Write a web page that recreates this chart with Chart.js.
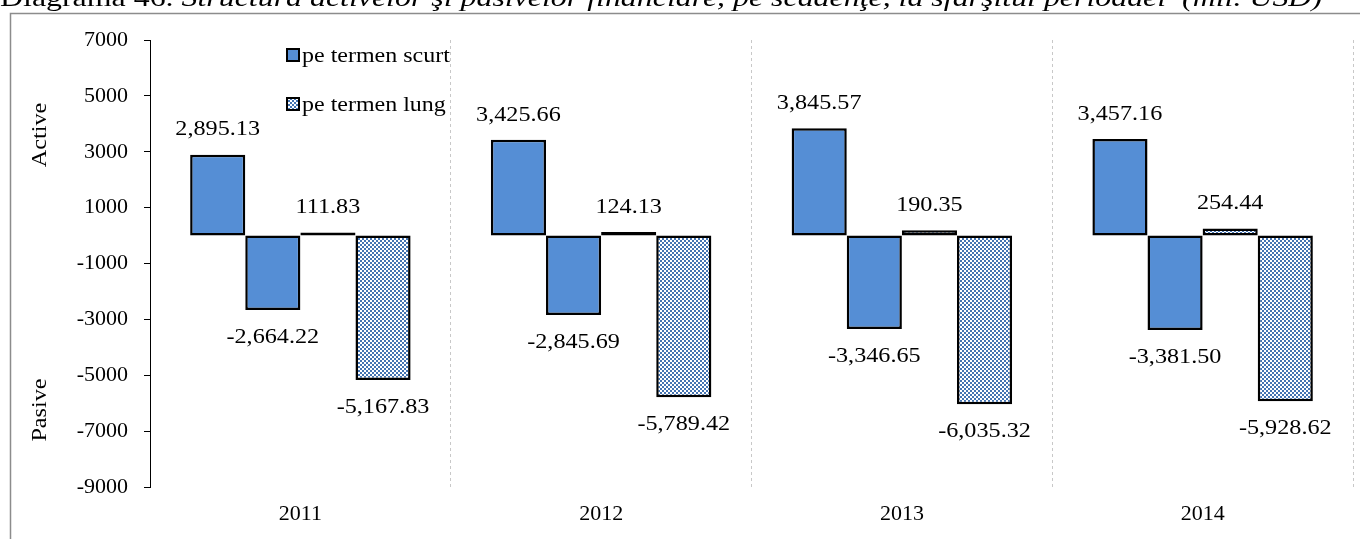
<!DOCTYPE html>
<html>
<head>
<meta charset="utf-8">
<script src="https://cdn.jsdelivr.net/npm/chart.js@4"></script>
<style>
  html, body { margin: 0; padding: 0; background: #fff; }
  canvas { display: block; }
</style>
</head>
<body>
<canvas id="structChart" width="1360" height="539"></canvas>
<script>
const years = ["2011", "2012", "2013", "2014"];
const seriesNames = ["pe termen scurt", "pe termen lung"];
const activeShort = [2895.13, 3425.66, 3845.57, 3457.16];
const pasiveShort = [-2664.22, -2845.69, -3346.65, -3381.50];
const activeLong = [111.83, 124.13, 190.35, 254.44];
const pasiveLong = [-5167.83, -5789.42, -6035.32, -5928.62];
const yTicks = [7000, 5000, 3000, 1000, -1000, -3000, -5000, -7000, -9000];

const SERIF = "'Liberation Serif', 'Times New Roman', serif";
const BLUE = "#558ed5";

// checkered fill for the long-term bars
function makeChecker() {
  const c = document.createElement("canvas");
  c.width = 4; c.height = 4;
  const g = c.getContext("2d");
  g.fillStyle = "#ffffff";
  g.fillRect(0, 0, 4, 4);
  g.fillStyle = "#4474b2";
  g.fillRect(0, 0, 2, 2);
  g.fillRect(2, 2, 2, 2);
  return g.createPattern(c, "repeat");
}
const checker = makeChecker();

const fmt = v => v.toLocaleString("en-US", { minimumFractionDigits: 2, maximumFractionDigits: 2 });

// text slightly widened, centred or left-aligned at (x, y)
function wideText(ctx, text, x, y, align, stretch) {
  ctx.save();
  ctx.translate(x, y);
  ctx.scale(stretch, 1);
  ctx.textAlign = align;
  ctx.fillText(text, 0, 0);
  ctx.restore();
}

// title, frame, side captions, legend
const decorations = {
  id: "decorations",
  beforeDraw(chart) {
    const ctx = chart.ctx;
    ctx.save();
    ctx.strokeStyle = "#8c8c8c";
    ctx.lineWidth = 1.5;
    ctx.strokeRect(10.5, 13.5, 1400, 600);

    // title, partly above the page edge
    ctx.fillStyle = "#000";
    ctx.textBaseline = "alphabetic";
    ctx.textAlign = "left";
    const partA = "Diagrama 46. ";
    const partB = "Structura activelor şi pasivelor financiare, pe scadenţe, la sfârşitul perioadei  (mil. USD)";
    ctx.font = "26px " + SERIF;
    const wA = ctx.measureText(partA).width;
    ctx.font = "italic 26px " + SERIF;
    const wB = ctx.measureText(partB).width;
    const sx = 1322 / (wA + wB);
    ctx.translate(0, 6);
    ctx.scale(sx, 1);
    ctx.font = "26px " + SERIF;
    ctx.fillText(partA, 0, 0);
    ctx.font = "italic 26px " + SERIF;
    ctx.fillText(partB, wA, 0);
    ctx.restore();

    ctx.save();
    ctx.fillStyle = "#000";
    ctx.font = "22px " + SERIF;
    ctx.textAlign = "center";
    ctx.textBaseline = "middle";
    [["Active", 135], ["Pasive", 410]].forEach(([t, y]) => {
      ctx.save();
      ctx.translate(40, y);
      ctx.rotate(-Math.PI / 2);
      ctx.scale(1.1, 1);
      ctx.fillText(t, 0, 0);
      ctx.restore();
    });
    ctx.restore();
  },
  afterDraw(chart) {
    const ctx = chart.ctx;
    ctx.save();
    ctx.font = "22px " + SERIF;
    ctx.textBaseline = "middle";
    const fills = [BLUE, checker];
    seriesNames.forEach((name, i) => {
      const y = 55 + i * 49;
      ctx.fillStyle = fills[i];
      ctx.fillRect(287, y - 6, 12, 12);
      ctx.strokeStyle = "#000";
      ctx.lineWidth = 2;
      ctx.strokeRect(287, y - 6, 12, 12);
      ctx.fillStyle = "#000";
      wideText(ctx, name, 302, y + 1, "left", 1.09);
    });
    ctx.restore();
  }
};

// value labels above positive bars and below negative ones
const valueLabels = {
  id: "valueLabels",
  afterDatasetsDraw(chart) {
    const ctx = chart.ctx;
    ctx.save();
    ctx.font = "22px " + SERIF;
    ctx.fillStyle = "#000";
    ctx.textBaseline = "middle";
    chart.data.datasets.forEach((ds, di) => {
      chart.getDatasetMeta(di).data.forEach((bar, i) => {
        const v = ds.data[i];
        const y = v >= 0 ? bar.y - 25 : bar.y + 27;
        wideText(ctx, fmt(v), bar.x, y, "center", 1.1);
      });
    });
    ctx.restore();
  }
};

const barStyle = { borderColor: "#000", borderWidth: 2.5, borderSkipped: false };

new Chart(document.getElementById("structChart"), {
  type: "bar",
  data: {
    labels: years,
    datasets: [
      { label: seriesNames[0], data: activeShort, backgroundColor: BLUE, ...barStyle },
      { label: seriesNames[0], data: pasiveShort, backgroundColor: BLUE, ...barStyle },
      { label: seriesNames[1], data: activeLong, backgroundColor: checker, ...barStyle },
      { label: seriesNames[1], data: pasiveLong, backgroundColor: checker, ...barStyle }
    ]
  },
  options: {
    responsive: false,
    animation: false,
    categoryPercentage: 0.733,
    barPercentage: 1,
    layout: { padding: { left: 0, right: 7, top: 40, bottom: 0 } },
    plugins: {
      legend: { display: false },
      tooltip: { enabled: false }
    },
    scales: {
      x: {
        grid: { offset: true, color: "#c8c8c8", drawTicks: false, lineWidth: 1 },
        border: { display: false, dash: [3, 3] },
        ticks: { color: "#000", font: { family: SERIF, size: 22 }, padding: 14 },
        afterFit(scale) { scale.height = 52; }
      },
      y: {
        min: -9000,
        max: 7000,
        afterBuildTicks(scale) { scale.ticks = yTicks.map(v => ({ value: v })); },
        grid: {
          color: c => (c.tick && c.tick.value === 0 ? "#000" : "rgba(0,0,0,0)"),
          tickColor: "#000",
          tickLength: 6,
          lineWidth: 1
        },
        border: { display: true, color: "#000", width: 1 },
        ticks: {
          color: "#000",
          font: { family: SERIF, size: 22 },
          padding: 16,
          callback: v => String(v)
        },
        afterFit(scale) { scale.width = 150; }
      }
    }
  },
  plugins: [decorations, valueLabels]
});
</script>
</body>
</html>
